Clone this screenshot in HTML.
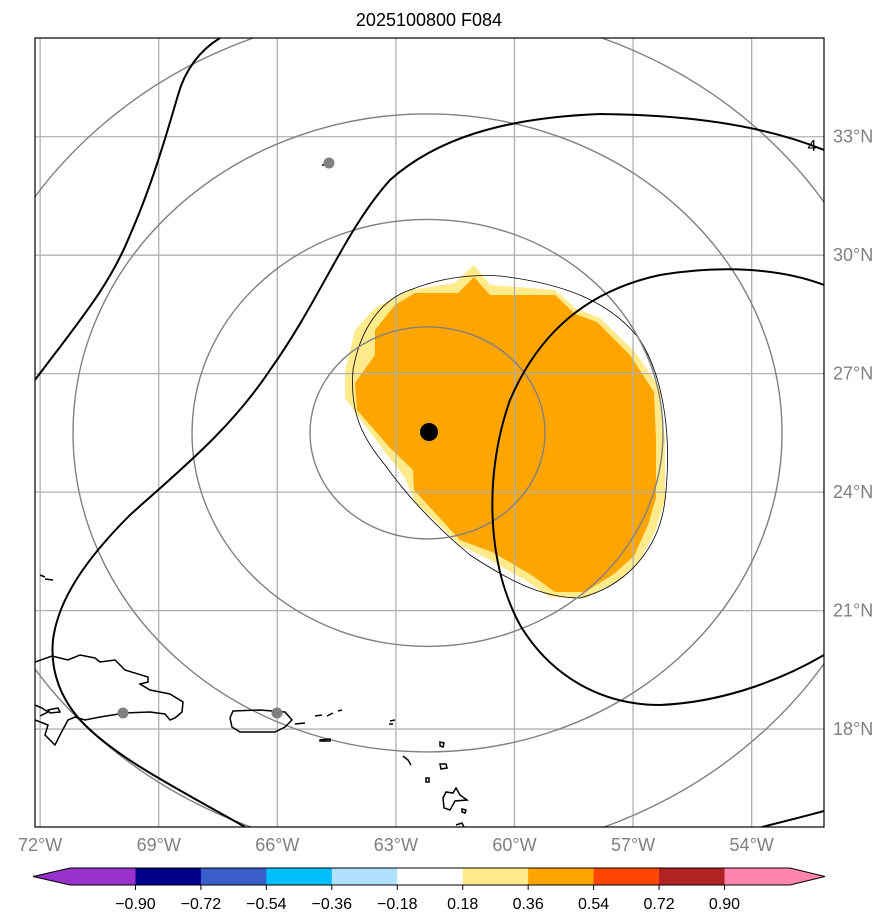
<!DOCTYPE html>
<html><head><meta charset="utf-8"><style>
html,body{margin:0;padding:0;background:#fff;}
svg{display:block;font-family:"Liberation Sans","DejaVu Sans",sans-serif;}
</style></head><body>
<svg id="chart" width="895" height="924" viewBox="0 0 895 924" xmlns="http://www.w3.org/2000/svg">
<defs><clipPath id="mapclip"><rect x="35" y="38" width="789" height="789"/></clipPath></defs>
<text x="429" y="26" text-anchor="middle" font-size="18" fill="#000">2025100800 F084</text>
<rect x="35" y="38" width="789" height="789" fill="#fff"/>
<g clip-path="url(#mapclip)">
  <polygon fill="#ffea8c" points="474,265 490,285 555,290 575,308 600,318 635,352 660,388 665,440 665,500 655,532 640,560 620,580 585,598 550,597 525,580 490,560 460,545 415,502 405,478 385,452 355,412 345,398 345,372 355,330 375,308 410,290 455,283"/>
  <polygon fill="#ffa500" points="474,277 490,295 555,295 575,314 597,322 630,355 654,392 656,440 656,498 648,525 634,556 614,574 585,592 555,592 530,574 492,552 460,540 414,490 413,470 390,448 357,410 355,383 375,355 375,330 395,305 415,293 458,293"/>
  <g id="grid"></g>
  <path fill="none" stroke="#000" stroke-width="0.8" d="M410,290 C440,278 470,274 500,276 C560,283 610,300 640,340 C665,380 672,440 665,500 C660,545 630,585 580,598 C540,598 505,578 470,555 C440,530 410,500 385,465 C360,435 350,410 353,370 C360,330 380,300 410,290 Z"/>
  <g id="rings"></g>
  <g fill="none" stroke="#000" stroke-width="2">
    <path d="M220,38 C200,50 185,70 178,95 C165,140 150,190 130,235 C110,285 80,320 35,380"/>
    <path d="M245,827 C180,790 120,760 85,725 C60,700 50,670 53,640 C58,600 85,560 130,515 C180,470 230,430 270,370 C320,300 345,230 390,180 C435,140 500,118 600,114 C700,115 770,128 824,150"/>
    <path d="M824,285 C780,268 720,265 660,275 C590,290 540,330 510,400 C485,470 485,560 520,625 C550,675 600,705 660,705 C730,702 790,675 824,655"/>
    <path d="M762,827 C790,820 810,815 824,811"/>
  </g>
  <text x="812" y="151" text-anchor="middle" font-size="16" fill="#000">4</text>
  <g fill="none" stroke="#000" stroke-width="1.5">
    <path d="M35,662 L52,656 L68,660 L80,655 L95,658 L100,662 L115,660 L120,665 L125,670 L148,677 L148,682 L140,684 L150,690 L170,694 L183,702 L182,712 L175,718 L170,720 L165,714 L150,712 L125,713 L100,717 L85,720 L75,717 L68,720 L60,735 L55,745 L45,735 L48,725 L35,720"/>
    <path d="M35,705 L42,708 L48,712 L40,716"/>
    <path d="M48,710 L58,708 L60,712 L50,713 Z"/>
    <path d="M233,711 L260,710 L285,712 L292,720 L285,727 L275,732 L240,732 L232,727 L230,718 Z"/>
    <path d="M315,716 L322,715 M327,716 L333,713 M338,711 L342,710"/>
    <path d="M295,724 L305,723"/>
    <path d="M320,740 L330,739 L330,741 L320,741 Z"/>
    <path d="M390,721 L395,720 M389,724 L393,724"/>
    <path d="M440,742 L444,743 L443,747 L440,746 Z"/>
    <path d="M443,798 L446,792 L453,793 L456,788 L460,795 L467,800 L455,801 L450,810 L444,808 Z"/>
    <path d="M426,778 L429,778 L429,782 L426,782 Z"/>
    <path d="M403,756 L408,760 L411,765"/>
    <path d="M440,764 L446,764 L447,768 L441,769 Z"/>
    <path d="M462,809 L466,810 L465,813 L462,812 Z"/>
    <path d="M456,825 L462,823 L464,827"/>
    <path d="M40,575 L45,577 M45,579 L53,580"/>
    <path d="M322,165 L328,165"/>
  </g>
  <g fill="#808080">
    <circle cx="329" cy="163" r="5.5"/>
    <circle cx="123" cy="713" r="5.5"/>
    <circle cx="277" cy="713" r="5.5"/>
  </g>
  <circle cx="429" cy="432" r="9" fill="#000"/>
</g>
<rect x="35" y="38" width="789" height="789" fill="none" stroke="#000" stroke-width="1.2"/>
<g id="axes"></g>
<g id="colorbar"></g>
<script>
const lonTicks = [-72, -69, -66, -63, -60, -57, -54];
const latTicks = [33, 30, 27, 24, 21, 18];
const ringRx = [117.5, 235.5, 354.5, 472];
const ringRy = [106, 213.5, 319, 425];
const cbLevels = ["\u22120.90","\u22120.72","\u22120.54","\u22120.36","\u22120.18","0.18","0.36","0.54","0.72","0.90"];
const cbColors = ["#9932cc","#00008b","#3a5fcd","#00bfff","#b0e2ff","#ffffff","#ffea8c","#ffa500","#ff4500","#b22222","#ff85ad"];

const NS = "http://www.w3.org/2000/svg";
const lonMin = -72.13, lonMax = -52.17, latMin = 15.52, latMax = 35.5;
function xOf(lon){ return 35 + (lon - lonMin) / (lonMax - lonMin) * 789; }
function yOf(lat){ return 827 - (lat - latMin) / (latMax - latMin) * 789; }
function mk(tag, attrs, parent){ const e = document.createElementNS(NS, tag); for (const k in attrs) e.setAttribute(k, attrs[k]); parent.appendChild(e); return e; }

const gridG = document.getElementById('grid');
const axesG = document.getElementById('axes');
lonTicks.forEach(lon => {
  const x = xOf(lon);
  const l = mk('line', {x1:x, y1:38, x2:x, y2:827, stroke:'#b0b0b0', 'stroke-width':1.3}, gridG);
  
  
  const t = mk('text', {x:x, y:851, 'text-anchor':'middle', 'font-size':18, fill:'#808080'}, axesG);
  t.textContent = Math.abs(lon) + '\u00b0W';
  
  
});
latTicks.forEach(lat => {
  const y = yOf(lat);
  const l = mk('line', {x1:35, y1:y, x2:824, y2:y, stroke:'#b0b0b0', 'stroke-width':1.3}, gridG);
  
  
  const t = mk('text', {x:833, y:y+6, 'font-size':18, fill:'#808080'}, axesG);
  t.textContent = lat + '\u00b0N';
  
  
});

const ringsG = document.getElementById('rings');
const rcx = xOf(-62.2), rcy = yOf(25.5);
ringRx.forEach((rx, i) => {
  const e = mk('ellipse', {cx:rcx, cy:rcy, rx:rx, ry:ringRy[i], fill:'none', stroke:'#808080', 'stroke-width':1.4}, ringsG);
  
  
});

const cbG = document.getElementById('colorbar');
const segW = 65.45, cbX0 = 70, cbTop = 868, cbBot = 885, cbMid = 876.5;
cbColors.forEach((c, i) => {
  let r;
  if (i === 0) {
    r = mk('polygon', {points:`33,${cbMid} ${cbX0},${cbTop} ${cbX0+segW},${cbTop} ${cbX0+segW},${cbBot} ${cbX0},${cbBot}`, fill:c}, cbG);
  } else if (i === cbColors.length - 1) {
    const xs = cbX0 + i*segW;
    r = mk('polygon', {points:`${xs},${cbTop} ${xs+segW},${cbTop} 825,${cbMid} ${xs+segW},${cbBot} ${xs},${cbBot}`, fill:c}, cbG);
  } else {
    r = mk('rect', {x:cbX0 + i*segW, y:cbTop, width:segW+0.5, height:cbBot-cbTop, fill:c}, cbG);
  }
  
  
});
const cbOutline = mk('polygon', {points:`33,${cbMid} ${cbX0},${cbTop} ${cbX0+11*segW},${cbTop} 825,${cbMid} ${cbX0+11*segW},${cbBot} ${cbX0},${cbBot}`, fill:'none', stroke:'#000', 'stroke-width':1}, cbG);


cbLevels.forEach((lab, i) => {
  const x = cbX0 + (i+1)*segW;
  const tk = mk('line', {x1:x, y1:cbBot, x2:x, y2:cbBot+5, stroke:'#000', 'stroke-width':1}, cbG);
  
  
  const t = mk('text', {x:x, y:909, 'text-anchor':'middle', 'font-size':16, fill:'#000'}, cbG);
  t.textContent = lab;
  
  
});
</script>
</svg>
</body></html>
